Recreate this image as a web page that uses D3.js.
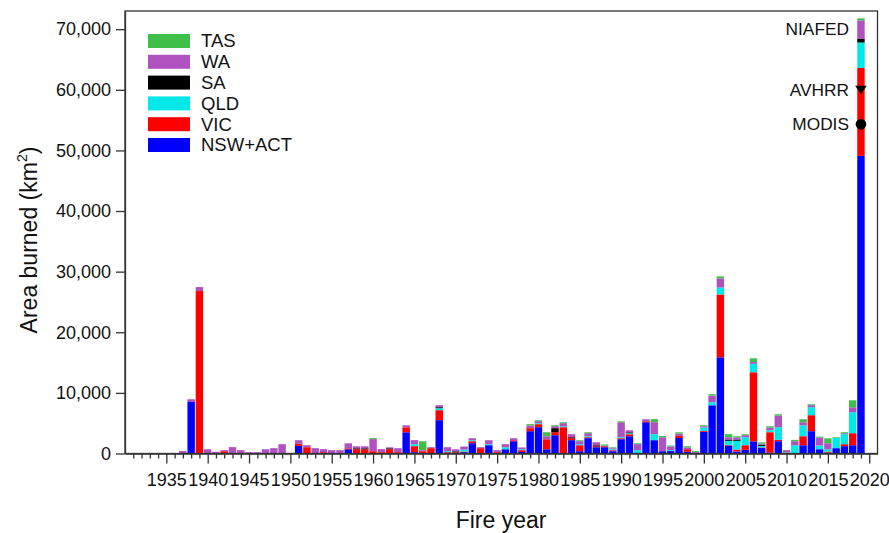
<!DOCTYPE html>
<html>
<head>
<meta charset="utf-8">
<script src="https://cdn.jsdelivr.net/npm/d3@7"></script>
<style>
  html, body { margin: 0; padding: 0; background: #fff; }
  svg { display: block; font-family: "Liberation Sans", Arial, sans-serif; }
</style>
</head>
<body>
<svg id="chart" width="889" height="533"></svg>
<script>
// ---- data (km²) ----
const years = d3.range(1930, 2020);
const nsw = [0,0,0,0,0,0,0,0,8500,0, 0,0,0,0,0,0,0,0,0,0, 0,1260,0,0,0,0,100,700,0,0, 0,0,0,0,3500,220,0,0,5500,0, 100,220,1700,0,1370,0,700,2030,250,3680, 4340,700,3020,0,2200,380,2530,1040,1040,380, 2360,2850,0,5160,2200,380,400,2550,275,100, 3570,7960,15870,1320,330,600,2000,900,160,2030, 0,0,1370,3680,710,160,880,1210,1370,49100];
const vic = [0,0,0,0,0,0,0,0,0,26800, 0,0,380,0,0,0,0,0,0,0, 0,330,1040,0,220,0,0,160,700,700, 380,220,700,220,820,990,380,880,1650,220, 100,100,330,880,0,220,0,160,300,500, 500,1650,500,4340,330,990,160,160,160,160, 160,330,0,160,0,0,0,330,440,0, 160,0,10370,110,330,770,11400,100,3350,220, 150,0,1480,2640,0,160,0,330,1980,14500];
const qld = [0,0,0,0,0,0,0,0,0,0, 0,0,0,0,0,0,0,0,0,0, 0,0,0,0,0,0,0,0,0,0, 0,0,0,0,0,330,0,0,330,160, 0,330,160,0,160,0,330,0,150,0, 160,0,0,160,0,160,160,0,0,160, 160,160,550,0,990,0,160,0,0,0, 550,500,1150,660,1430,1320,1400,250,330,2090, 70,1370,1800,1320,600,380,1700,1650,3460,4200];
const sa  = [0,0,0,0,0,0,0,0,0,0, 0,0,0,0,0,0,0,0,0,0, 0,0,0,0,0,0,0,0,160,160, 0,0,160,0,0,0,0,0,160,0, 160,0,0,0,0,0,0,0,0,0, 0,0,660,0,160,0,0,160,0,0, 0,160,0,0,0,0,0,0,0,0, 0,0,0,220,220,0,0,200,0,0, 0,0,0,0,0,0,0,0,0,660];
const wa  = [0,0,0,0,0,0,0,400,450,650, 700,280,170,1050,550,220,220,700,880,1540, 0,600,330,880,500,550,450,820,330,330, 2000,500,160,660,330,660,160,160,330,660, 330,500,330,160,660,330,500,330,300,440, 330,500,330,500,500,500,500,500,100,160, 2470,330,990,330,1980,2300,600,400,275,150, 220,1100,1500,380,330,330,300,170,440,1920, 330,660,500,330,1320,990,0,160,820,3000];
const tas = [0,0,0,0,0,0,0,0,0,0, 0,0,0,0,0,0,0,0,0,0, 0,0,0,0,0,0,0,0,0,0, 160,0,0,0,0,0,1480,0,0,0, 0,0,0,0,0,0,0,0,0,220, 160,660,160,160,0,160,160,0,200,160, 160,0,160,0,500,200,160,220,220,150, 160,220,330,500,220,160,600,220,220,220, 0,220,500,160,160,820,110,160,1150,330];

const seriesKeys = ["NSW+ACT", "VIC", "QLD", "SA", "WA", "TAS"];
const seriesColors = ["#0000ff", "#ff0000", "#00e8e8", "#000000", "#ae52c0", "#40bf48"];
const legendOrder = ["TAS", "WA", "SA", "QLD", "VIC", "NSW+ACT"];

const yTicks = [0, 10000, 20000, 30000, 40000, 50000, 60000, 70000];
const xMajorTicks = d3.range(1935, 2021, 5);
const xMinorTicks = d3.range(1931, 2021);

// satellite / inventory estimates for 2019
const estYear = 2019;
const estimates = [
  { name: "NIAFED", value: 70100, marker: null },
  { name: "AVHRR", value: 60000, marker: "triangle" },
  { name: "MODIS", value: 54300, marker: "circle" }
];

// ---- build table ----
const cols = [nsw, vic, qld, sa, wa, tas];
const table = years.map((yr, i) => {
  const row = { year: yr };
  seriesKeys.forEach((k, j) => row[k] = cols[j][i]);
  return row;
});

const svg = d3.select("#chart");
svg.append("rect").attr("width", 889).attr("height", 533).attr("fill", "#fff");

const x = d3.scaleLinear().domain([1930, 2021]).range([125, 877.5]);
const y = d3.scaleLinear().domain([0, 73000]).range([453.5, 11]);
const color = d3.scaleOrdinal().domain(seriesKeys).range(seriesColors);

const step = x(1931) - x(1930);
const bw = step * 0.9;

const stacked = d3.stack().keys(seriesKeys)(table);

svg.append("g").selectAll("g").data(stacked).join("g")
  .attr("fill", d => color(d.key))
  .selectAll("rect").data(d => d.filter(p => p[1] - p[0] > 0)).join("rect")
  .attr("x", d => x(d.data.year) - bw / 2)
  .attr("width", bw)
  .attr("y", d => y(d[1]))
  .attr("height", d => y(d[0]) - y(d[1]));

// frame
const axisColor = "#333";
svg.append("rect")
  .attr("x", x(1930)).attr("y", y(73000))
  .attr("width", x(2021) - x(1930)).attr("height", y(0) - y(73000))
  .attr("fill", "none").attr("stroke", axisColor).attr("stroke-width", 1.3);

// x axis
const xAxis = svg.append("g").attr("transform", `translate(0,${y(0)})`)
  .call(d3.axisBottom(x).tickValues(xMajorTicks).tickFormat(d3.format("d"))
    .tickSize(10).tickPadding(10).tickSizeOuter(0));
xAxis.select(".domain").attr("stroke", axisColor).attr("stroke-width", 1.3);
xAxis.selectAll(".tick line").attr("stroke", axisColor).attr("stroke-width", 1.3);
xAxis.selectAll(".tick text").attr("font-size", 18).attr("fill", "#111")
  .attr("font-family", "Liberation Sans, Arial, sans-serif");

const xMinor = svg.append("g").attr("transform", `translate(0,${y(0)})`)
  .call(d3.axisBottom(x).tickValues(xMinorTicks.filter(v => v % 5 !== 0)).tickFormat("")
    .tickSize(5).tickSizeOuter(0));
xMinor.select(".domain").remove();
xMinor.selectAll(".tick line").attr("stroke", axisColor).attr("stroke-width", 1.3);

// y axis
const yAxis = svg.append("g").attr("transform", `translate(${x(1930)},0)`)
  .call(d3.axisLeft(y).tickValues(yTicks).tickFormat(d3.format(","))
    .tickSize(9).tickPadding(5).tickSizeOuter(0));
yAxis.select(".domain").attr("stroke", axisColor).attr("stroke-width", 1.3);
yAxis.selectAll(".tick line").attr("stroke", axisColor).attr("stroke-width", 1.3);
yAxis.selectAll(".tick text").attr("font-size", 18).attr("fill", "#111")
  .attr("font-family", "Liberation Sans, Arial, sans-serif");

// axis titles
svg.append("text").attr("x", 501).attr("y", 528).attr("text-anchor", "middle")
  .attr("font-size", 23).attr("fill", "#111").text("Fire year");

const yt = svg.append("text").attr("transform", "translate(37,240) rotate(-90)")
  .attr("text-anchor", "middle").attr("font-size", 23).attr("fill", "#111");
yt.append("tspan").text("Area burned (km");
yt.append("tspan").attr("font-size", 14).attr("dy", -10).text("2");
yt.append("tspan").attr("dy", 10).text(")");

// legend
const lg = svg.append("g").attr("transform", "translate(148,41)");
legendOrder.forEach((k, i) => {
  const g = lg.append("g").attr("transform", `translate(0,${i * 20.8})`);
  g.append("rect").attr("x", 0).attr("y", -7).attr("width", 42).attr("height", 14).attr("fill", color(k));
  g.append("text").attr("x", 53).attr("y", 0).attr("dy", "0.35em")
    .attr("font-size", 18.5).attr("fill", "#111").text(k);
});

// estimates annotations
const ex = x(estYear);
estimates.forEach(e => {
  const yy = y(e.value);
  if (e.marker === "triangle") {
    svg.append("path").attr("d", `M${ex - 5.8},${yy - 4}L${ex + 5.8},${yy - 4}L${ex},${yy + 4.5}Z`).attr("fill", "#000");
  } else if (e.marker === "circle") {
    svg.append("circle").attr("cx", ex).attr("cy", yy).attr("r", 5.3).attr("fill", "#000");
  }
  svg.append("text").attr("x", ex - 12).attr("y", yy).attr("dy", "0.35em")
    .attr("text-anchor", "end").attr("font-size", 17.3).attr("fill", "#111").text(e.name);
});
</script>
</body>
</html>
